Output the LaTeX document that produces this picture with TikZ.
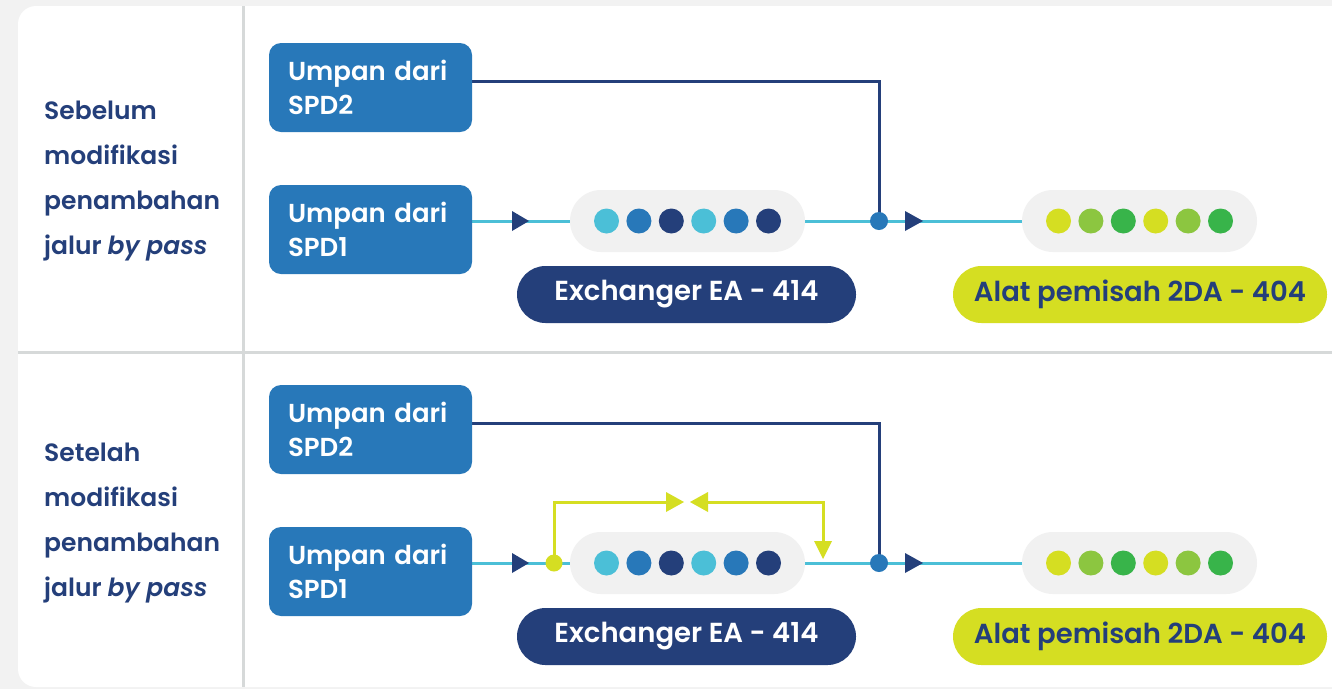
\documentclass[tikz,border=0pt]{standalone}
\usepackage{fontspec}
\setmainfont{Poppins}[BoldFont={Poppins SemiBold},BoldItalicFont={Poppins SemiBold Italic}]
\usetikzlibrary{calc}
\definecolor{cbg}{HTML}{F2F2F2}
\definecolor{cdiv}{HTML}{D6D9D9}
\definecolor{cblue}{HTML}{2878B9}
\definecolor{cnavy}{HTML}{243F7A}
\definecolor{ccyan}{HTML}{4BBFD7}
\definecolor{cgray}{HTML}{F1F1F1}
\definecolor{cyg}{HTML}{D5DE22}
\definecolor{clg}{HTML}{8CC640}
\definecolor{cgr}{HTML}{38B44A}
\pgfdeclarelayer{back}
\pgfdeclarelayer{lines}
\pgfsetlayers{back,lines,main}
\newcommand{\flowrow}[3]{%
\begin{scope}[shift={(0,#1)}]
  \foreach \w [count=\i] in {#3} {
    \node[title, anchor=base west] (t\i#2) at (44,{119+45*(\i-1)}) {\w};
  }
  \node[feed] (sa#2) at (370.5,87.5) {Umpan dari\\SPD2};
  \node[feed] (sb#2) at (370.5,229.5) {Umpan dari\\SPD1};
  \node[pill] (ea#2) at (687.5,221) {};
  \node[pill] (da#2) at (1139.5,221) {};
  \foreach \c [count=\i] in {ccyan,cblue,cnavy,ccyan,cblue,cnavy}
    \node[dotc, fill=\c] at ($(ea#2.center)+({32.4*(\i-3.5)},0)$) {};
  \foreach \c [count=\i] in {cyg,clg,cgr,cyg,clg,cgr}
    \node[dotc, fill=\c] at ($(da#2.center)+({32.4*(\i-3.5)},0)$) {};
  \node[tag, fill=cnavy, text=white, minimum width=339pt] (eal#2) at (686.5,294.5) {Exchanger EA - 414};
  \node[tag, fill=cyg, text=cnavy, minimum width=374pt] (dal#2) at (1140,294.5) {Alat pemisah 2DA - 404};
  \node[junc] (j#2) at (879,221) {};
  \begin{pgfonlayer}{lines}
    \draw[flow] (sb#2.east |- j#2) -- (ea#2.west);
    \draw[flow] (ea#2.east) -- (da#2.west);
    \draw[feedline] ($(sa#2.east)+(0,-6)$) -| (j#2.center);
  \end{pgfonlayer}
  \fill[cnavy] (512,211) -- (529,221) -- (512,231) -- cycle;
  \fill[cnavy] (905,211) -- (923,221) -- (905,231) -- cycle;
\end{scope}}
\begin{document}
\begin{tikzpicture}[x=1pt,y=-1pt,
  title/.style={inner sep=0pt, text=cnavy, font=\fontsize{25}{25}\selectfont\bfseries},
  feed/.style={rectangle, rounded corners=12pt, fill=cblue, text=white, minimum width=203pt,
    minimum height=89pt, inner xsep=19pt, inner ysep=0pt, text width=165pt, align=left,
    font=\fontsize{26}{34}\selectfont\bfseries},
  pill/.style={rectangle, rounded corners=31pt, fill=cgray, minimum width=235pt, minimum height=62pt, inner sep=0pt},
  tag/.style={rectangle, rounded corners=28.5pt, minimum height=57pt, inner sep=0pt,
    font=\fontsize{27.5}{27.5}\selectfont\bfseries},
  dotc/.style={circle, inner sep=0pt, minimum size=25pt},
  junc/.style={circle, inner sep=0pt, minimum size=18pt, fill=cblue},
  flow/.style={draw=ccyan, line width=3pt},
  feedline/.style={draw=cnavy, line width=3pt},
  byline/.style={draw=cyg, line width=3pt}]
\useasboundingbox (0,0) rectangle (1332,689);
\begin{pgfonlayer}{back}
  \fill[cbg] (0,0) rectangle (1332,689);
  \fill[white, rounded corners=18pt] (18,6) rectangle (1380,687);
  \fill[cdiv] (241.5,6) rectangle (244.5,687);
  \fill[cdiv] (18,350.5) rectangle (1332,353.5);
\end{pgfonlayer}
\flowrow{0}{A}{Sebelum,modifikasi,penambahan,{jalur \textit{by pass}}}
\flowrow{342}{B}{Setelah,modifikasi,penambahan,{jalur \textit{by pass}}}
% bypass in second row
\node[circle, inner sep=0pt, minimum size=17pt, fill=cyg] (bp) at (554,563) {};
\coordinate (bpr) at (823,559);
\begin{pgfonlayer}{lines}
  \draw[byline] (bp.center) |- (672,502);
  \draw[byline] (702,502) -| ($(bpr)+(0,-14)$);
\end{pgfonlayer}
\fill[cyg] (666,492) -- (684,502) -- (666,512) -- cycle;
\fill[cyg] (708,492) -- (690,502) -- (708,512) -- cycle;
\fill[cyg] (814,541) -- (832,541) -- (bpr) -- cycle;
\end{tikzpicture}
\end{document}
